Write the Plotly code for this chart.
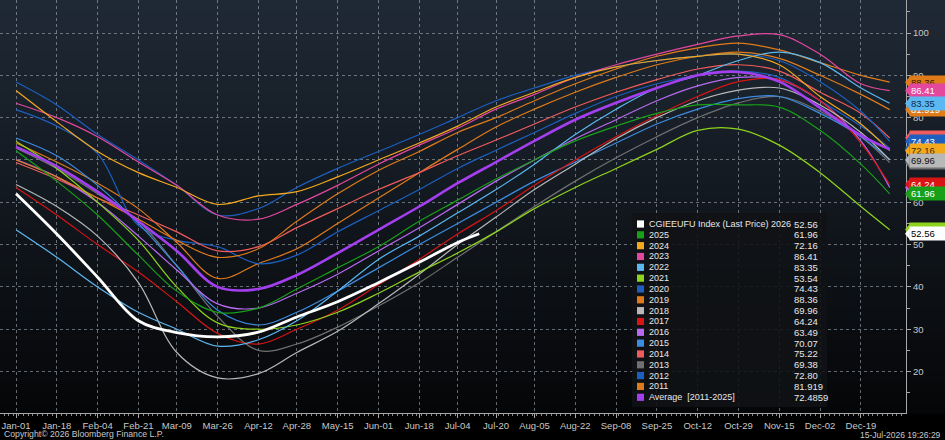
import plotly.graph_objects as go

# EU gas storage fill (%) by season, sampled on the chart's tick dates
days = ["01-01", "01-18", "02-04", "02-21", "03-09", "03-26", "04-12", "04-28",
        "05-15", "06-01", "06-18", "07-04", "07-20", "08-05", "08-22", "09-08",
        "09-25", "10-12", "10-29", "11-15", "12-02", "12-19", "12-31"]
days_2026 = ["01-01", "01-18", "02-04", "02-21", "03-09", "03-26", "04-12", "04-28",
             "05-15", "06-01", "06-18", "07-04", "07-13"]

tick_days = days[:-1]
tick_text = ["Jan-01", "Jan-18", "Feb-04", "Feb-21", "Mar-09", "Mar-26", "Apr-12", "Apr-28",
             "May-15", "Jun-01", "Jun-18", "Jul-04", "Jul-20", "Aug-05", "Aug-22", "Sep-08",
             "Sep-25", "Oct-12", "Oct-29", "Nov-15", "Dec-02", "Dec-19"]

y2011 = [74.0, 69.5, 64.5, 58.5, 50.5, 42.0, 45.5, 49.0, 55.0, 61.0, 67.0, 72.5,
         77.8, 82.0, 86.0, 89.5, 92.5, 94.5, 95.5, 94.0, 90.0, 85.5, 81.9]
y2012 = [81.9, 78.0, 71.5, 54.5, 51.0, 49.5, 45.5, 47.5, 53.0, 58.0, 63.0, 68.0,
         72.3, 76.5, 81.0, 85.0, 88.0, 90.0, 91.0, 89.5, 84.0, 78.0, 72.8]
y2013 = [72.8, 68.0, 62.0, 55.5, 45.0, 33.0, 25.0, 26.5, 30.5, 35.5, 41.0, 47.0,
         53.0, 59.0, 65.0, 70.5, 75.5, 80.0, 83.5, 85.0, 81.5, 75.5, 69.4]
y2014 = [69.4, 65.5, 61.0, 57.0, 53.0, 48.5, 49.5, 54.0, 58.5, 63.0, 67.0, 71.0,
         74.7, 78.5, 82.5, 86.0, 89.0, 91.5, 92.5, 91.0, 86.0, 81.0, 75.2]
y2015 = [75.2, 71.0, 64.0, 55.0, 45.0, 34.5, 31.0, 34.0, 39.0, 44.5, 50.0, 55.0,
         60.0, 65.0, 69.5, 74.0, 78.5, 82.0, 84.5, 85.0, 81.0, 75.5, 70.1]
y2016 = [70.1, 66.0, 60.0, 52.0, 44.0, 36.0, 35.0, 38.5, 43.0, 48.5, 54.0, 59.5,
         65.0, 70.0, 75.0, 79.5, 84.0, 87.5, 89.5, 89.0, 84.0, 74.5, 63.5]
y2017 = [63.5, 57.0, 50.0, 43.5, 36.5, 29.0, 26.5, 30.0, 34.5, 40.5, 46.5, 52.5,
         58.0, 64.0, 70.0, 75.5, 80.5, 85.0, 88.5, 89.0, 84.0, 74.0, 64.2]
y2018 = [64.2, 59.0, 52.0, 41.0, 24.5, 18.5, 19.5, 24.5, 29.5, 36.0, 43.0, 50.0,
         56.5, 63.0, 69.0, 75.0, 80.0, 84.0, 86.5, 87.0, 83.0, 76.5, 70.0]
y2019 = [70.0, 66.0, 61.0, 56.0, 51.0, 47.0, 49.0, 55.5, 62.0, 67.5, 72.0, 76.5,
         80.0, 84.0, 88.0, 91.5, 94.5, 96.5, 97.6, 96.0, 93.0, 90.0, 88.4]
y2020 = [88.4, 83.0, 76.0, 70.0, 64.0, 57.0, 58.5, 63.5, 68.0, 72.0, 76.0, 80.0,
         84.0, 87.0, 90.0, 92.0, 93.5, 94.5, 95.0, 93.5, 88.5, 81.5, 74.4]
y2021 = [74.4, 68.0, 60.0, 51.0, 40.0, 31.5, 30.0, 31.0, 34.0, 38.5, 43.5, 48.0,
         53.0, 58.5, 63.5, 68.0, 72.5, 77.0, 77.3, 73.5, 67.0, 59.0, 53.5]
y2022 = [53.5, 47.0, 40.0, 34.0, 30.0, 26.0, 27.5, 32.0, 39.0, 46.5, 52.0, 57.5,
         63.0, 69.0, 76.0, 82.0, 87.0, 90.0, 93.5, 95.5, 93.0, 87.0, 83.4]
y2023 = [83.4, 80.0, 75.5, 69.5, 64.0, 57.0, 56.0, 59.5, 64.0, 69.0, 73.5, 77.5,
         82.0, 85.5, 89.5, 92.5, 95.0, 97.3, 99.3, 99.6, 95.0, 88.0, 86.4]
y2024 = [86.4, 79.0, 72.0, 67.0, 63.5, 59.5, 61.5, 62.5, 66.0, 70.0, 74.0, 78.0,
         82.5, 86.0, 89.5, 92.0, 93.5, 94.5, 95.0, 92.5, 85.0, 78.5, 72.2]
y2025 = [72.2, 65.0, 57.0, 47.5, 39.0, 34.0, 35.0, 39.5, 44.5, 49.5, 55.5, 60.5,
         65.5, 70.0, 74.5, 78.0, 81.0, 83.0, 83.0, 82.5, 77.0, 69.0, 62.0]
y_avg = [73.1, 68.5, 62.5, 55.5, 48.5, 40.0, 39.5, 42.8, 48.0, 53.5, 59.0, 64.5,
         69.5, 74.5, 79.5, 83.5, 87.0, 90.0, 90.8, 88.5, 82.3, 75.8, 72.5]
y2026 = [62.0, 52.5, 42.3, 32.0, 29.2, 28.2, 29.3, 32.9, 36.5, 41.0, 45.8, 50.5, 52.56]

# last values as printed in the legend / axis tags
legend_names = ["CGIEEUFU Index (Last Price) 2026", "2025", "2024", "2023", "2022", "2021",
                "2020", "2019", "2018", "2017", "2016", "2015", "2014", "2013", "2012",
                "2011", "Average\u00a0\u00a0[2011-2025]"]
legend_values = ["52.56", "61.96", "72.16", "86.41", "83.35", "53.54", "74.43", "88.36",
                 "69.96", "64.24", "63.49", "70.07", "75.22", "69.38", "72.80", "81.919",
                 "72.4859"]
last_values = [52.56, 61.96, 72.16, 86.41, 83.35, 53.54, 74.43, 88.36,
               69.96, 64.24, 63.49, 70.07, 75.22, 69.38, 72.80, 81.919, 72.4859]
colors = ["#ffffff", "#18a018", "#f4a81c", "#e4479e", "#5cb8f2", "#8ed41c",
          "#1c5fbf", "#e07b1a", "#b8b8b8", "#d81414", "#b86af0", "#3c8ce0",
          "#f05c5c", "#707070", "#1c5fbf", "#e07b1a", "#a43ff0"]
tag_text_colors = ["#000000", "#ffffff", "#3a2a00", "#ffffff", "#0a2a50", "#1a3000",
                   "#ffffff", "#2a1500", "#111111", "#ffffff", "#ffffff", "#ffffff",
                   "#ffffff", "#ffffff", "#ffffff", "#ffffff", "#ffffff"]

FONT = "Liberation Sans, Arial, sans-serif"
W, H = 945, 440
PW, PH = 906, 413  # plot area in px
Y0, Y1 = 10.2, 107.8


def xp(px):
    return px / PW


def yp(py):
    return 1 - py / PH


fig = go.Figure()

history = [("2011", y2011, colors[15]), ("2012", y2012, colors[14]), ("2013", y2013, colors[13]),
           ("2014", y2014, colors[12]), ("2015", y2015, colors[11]), ("2016", y2016, colors[10]),
           ("2017", y2017, colors[9]), ("2018", y2018, colors[8]), ("2019", y2019, colors[7]),
           ("2020", y2020, colors[6]), ("2021", y2021, colors[5]), ("2022", y2022, colors[4]),
           ("2023", y2023, colors[3]), ("2024", y2024, colors[2]), ("2025", y2025, colors[1])]

x_dates = ["2026-" + d for d in days]
for name, vals, col in history:
    fig.add_trace(go.Scatter(x=x_dates, y=vals, name=name, mode="lines",
                             line=dict(color=col, width=1.2, shape="spline", smoothing=1.0)))
fig.add_trace(go.Scatter(x=x_dates, y=y_avg, name="Average [2011-2025]", mode="lines",
                         line=dict(color=colors[16], width=2.6, shape="spline", smoothing=1.0)))
fig.add_trace(go.Scatter(x=["2026-" + d for d in days_2026], y=y2026, name="2026", mode="lines",
                         line=dict(color=colors[0], width=2.8, shape="spline", smoothing=1.0)))

shapes = []
# dark slate to black background gradient
n = 40
top, bot = (32, 42, 54), (5, 6, 8)
for i in range(n):
    t = (i + 0.5) / n
    c = tuple(int(top[k] + (bot[k] - top[k]) * t) for k in range(3))
    shapes.append(dict(type="rect", xref="paper", yref="paper", x0=0, x1=1.05,
                       y0=1 - (i + 1) / n - 0.002, y1=1 - i / n, layer="below",
                       line=dict(width=0), fillcolor="rgb(%d,%d,%d)" % c))

# legend box
shapes.append(dict(type="rect", xref="paper", yref="paper", x0=xp(632), x1=xp(827),
                   y0=yp(407), y1=yp(213), layer="above", line=dict(width=0),
                   fillcolor="rgba(16,18,22,0.88)"))

annotations = []
row0, step = 224, 10.83
for i, (nm, val, col) in enumerate(zip(legend_names, legend_values, colors)):
    py = row0 + i * step
    shapes.append(dict(type="rect", xref="paper", yref="paper", x0=xp(637), x1=xp(644),
                       y0=yp(py + 3.6), y1=yp(py - 3.6), layer="above",
                       line=dict(width=0), fillcolor=col))
    annotations.append(dict(xref="paper", yref="paper", x=xp(647), y=yp(py), text=nm,
                            xanchor="left", yanchor="middle", showarrow=False,
                            font=dict(family=FONT, size=9, color="#e8e8e8")))
    annotations.append(dict(xref="paper", yref="paper", x=xp(792), y=yp(py), text=val,
                            xanchor="left", yanchor="middle", showarrow=False,
                            font=dict(family=FONT, size=9.5, color="#e8e8e8")))

# right-axis value tags (pointer + label), hidden ones first so visible ones sit on top
half = 6.0 * (Y1 - Y0) / PH
tag_order = [16, 14, 13, 11, 10, 12, 15, 5, 7, 3, 4, 6, 2, 8, 9, 1, 0]
for i in tag_order:
    v = last_values[i]
    shapes.append(dict(type="path", xref="paper", yref="y", layer="above",
                       path="M %.5f,%.4f L %.5f,%.4f L %.5f,%.4f Z" % (
                           xp(905), v, xp(910), v + half, xp(910), v - half),
                       fillcolor=colors[i], line=dict(width=0)))
    annotations.append(dict(xref="paper", yref="y", x=1.0, y=v,
                            text=legend_values[i], xanchor="left", yanchor="middle",
                            showarrow=False, bgcolor=colors[i], borderpad=1, width=34,
                            align="left", xshift=3,
                            font=dict(family=FONT, size=9.5, color=tag_text_colors[i])))

annotations.append(dict(xref="paper", yref="paper", x=xp(2), y=yp(434),
                        text="Copyright\u00a9 2026 Bloomberg Finance L.P.", xanchor="left",
                        yanchor="middle", showarrow=False,
                        font=dict(family=FONT, size=8.7, color="#c8c8c8")))
annotations.append(dict(xref="paper", yref="paper", x=xp(943), y=yp(435),
                        text="15-Jul-2026 19:26:29", xanchor="right", yanchor="middle",
                        showarrow=False, font=dict(family=FONT, size=8.5, color="#c8c8c8")))

grid = "rgba(175,185,195,0.55)"
fig.update_layout(
    width=W, height=H,
    margin=dict(l=0, r=W - PW, t=0, b=H - PH),
    paper_bgcolor="#000000", plot_bgcolor="rgba(0,0,0,0)",
    showlegend=False, hovermode=False,
    shapes=shapes, annotations=annotations,
    xaxis=dict(type="date", range=["2025-12-25 08:00", "2027-01-06 19:00"],
               tickmode="array", tickvals=["2026-" + d for d in tick_days], ticktext=tick_text,
               showgrid=True, gridcolor=grid, griddash="dot", gridwidth=1,
               showline=True, linecolor="#a8a8a8", linewidth=1,
               ticks="outside", ticklen=4, tickcolor="#a8a8a8", zeroline=False,
               ticklabeloverflow="allow",
               tickfont=dict(family=FONT, size=9.5, color="#c8c8c8"),
               minor=dict(ticks="outside", ticklen=2, tickcolor="#8a8a8a",
                          dtick=2 * 86400000, showgrid=False)),
    yaxis=dict(side="right", range=[Y0, Y1], tick0=0, dtick=10,
               showgrid=True, gridcolor=grid, griddash="dot", gridwidth=1,
               showline=True, linecolor="#a8a8a8", linewidth=1,
               ticks="outside", ticklen=4, tickcolor="#a8a8a8", zeroline=False,
               tickfont=dict(family=FONT, size=9.5, color="#c8c8c8"),
               minor=dict(ticks="outside", ticklen=3, tickcolor="#a8a8a8", dtick=5,
                          showgrid=False)),
)

fig.write_html("out.html", config={"displayModeBar": False},
               post_script="document.body.style.margin='0px';")
